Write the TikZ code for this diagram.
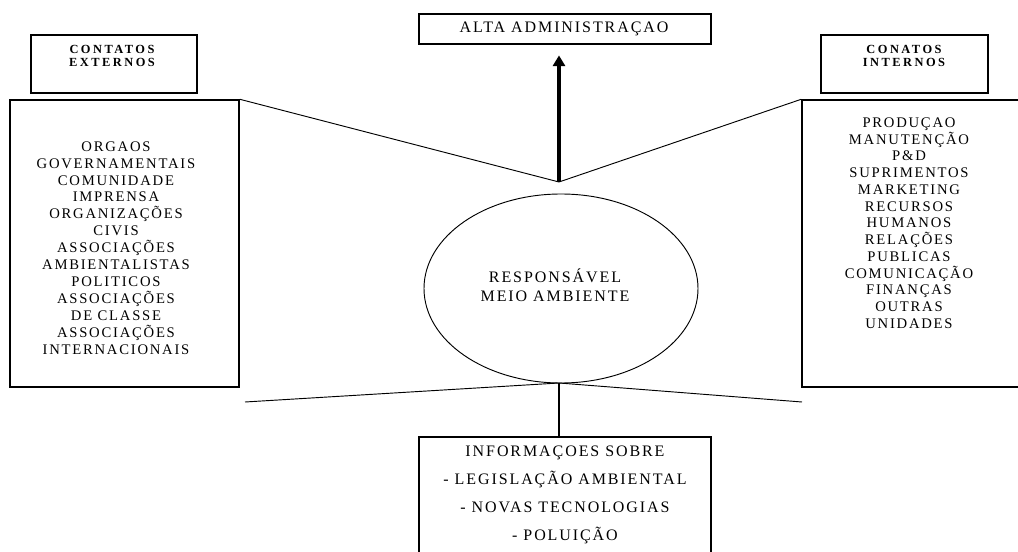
\documentclass[tikz,border=0pt]{standalone}
\usepackage{fontspec}
\setmainfont{Liberation Serif}[LetterSpace=12]
\newfontfamily\hdrfont{Liberation Serif}[LetterSpace=20]
\usetikzlibrary{fit,shapes.geometric,arrows.meta}
\tikzset{
  box/.style={draw=black, line width=1.1pt, inner sep=0pt},
  thin/.style={draw=black, line width=0.7pt},
  listtxt/.style={align=center, font=\fontsize{11}{12.7}\selectfont, inner sep=0pt},
  maintxt/.style={align=center, font=\fontsize{12}{14}\selectfont, inner sep=0pt},
  hdrtxt/.style={align=center, font=\hdrfont\bfseries\fontsize{9.3}{9.8}\selectfont, inner sep=0pt, anchor=north},
}
\begin{document}
\begin{tikzpicture}[x=0.75pt,y=-0.75pt]
\useasboundingbox (0,0) rectangle (1018,552);
\clip (0,0) rectangle (1018,552);
\fill[white] (0,0) rectangle (1018,552);
% boxes
\node[box, fit={(419,14) (711,44)}] (alta) {};
\node[maintxt] (altatxt) at (564,29) {ALTA ADMINISTRAÇAO};
\node[box, fit={(31,35) (197,93)}] (lhead) {};
\node[hdrtxt] (lheadtxt) at (112,45) {CONTATOS\\EXTERNOS};
\node[box, fit={(821,35) (988,93)}] (rhead) {};
\node[hdrtxt] (rheadtxt) at (904,45) {CONATOS\\INTERNOS};
\node[box, fit={(10,100) (239,387)}] (lbig) {};
\node[listtxt] (ltxt) at (116,248) {ORGAOS\\GOVERNAMENTAIS\\COMUNIDADE\\IMPRENSA\\ORGANIZAÇÕES\\CIVIS\\ASSOCIAÇÕES\\AMBIENTALISTAS\\POLITICOS\\ASSOCIAÇÕES\\DE CLASSE\\ASSOCIAÇÕES\\INTERNACIONAIS};
\node[box, fit={(802,100) (1040,387)}] (rbig) {};
\node[listtxt, font=\fontsize{11}{12.56}\selectfont] (rtxt) at (909,223) {PRODUÇAO\\MANUTENÇÃO\\P\&D\\SUPRIMENTOS\\MARKETING\\RECURSOS\\HUMANOS\\RELAÇÕES\\PUBLICAS\\COMUNICAÇÃO\\FINANÇAS\\OUTRAS\\UNIDADES};
% ellipse
\node[draw=black, line width=0.7pt, ellipse, minimum width=205.5pt, minimum height=141.75pt, inner sep=0pt] (ell) at (561,288.5) {};
\node[maintxt] (elltxt) at (555,285) {RESPONSÁVEL\\MEIO AMBIENTE};
% bottom box
\node[box, fit={(419,437) (711,570)}] (info) {};
\node[maintxt, font=\fontsize{12}{21}\selectfont] (infotxt) at (565,494.5) {INFORMAÇOES SOBRE\\- LEGISLAÇÃO AMBIENTAL\\- NOVAS TECNOLOGIAS\\- POLUIÇÃO};
% connectors
\coordinate (apex) at (559,182);
\coordinate (junc) at (559,383);
\coordinate (bl) at (245,402);
\coordinate (br) at (802,402);
\draw[thin] (lbig.north east) -- (apex) -- (rbig.north west);
\draw[line width=2.4pt, -{Triangle[length=8pt,width=9pt]}, shorten >=8pt] (apex) -- (apex |- alta.south);
\draw[thin] (bl) -- (junc) -- (br);
\draw[line width=1.6pt] (junc) -- (junc |- info.north);
\end{tikzpicture}
\end{document}
